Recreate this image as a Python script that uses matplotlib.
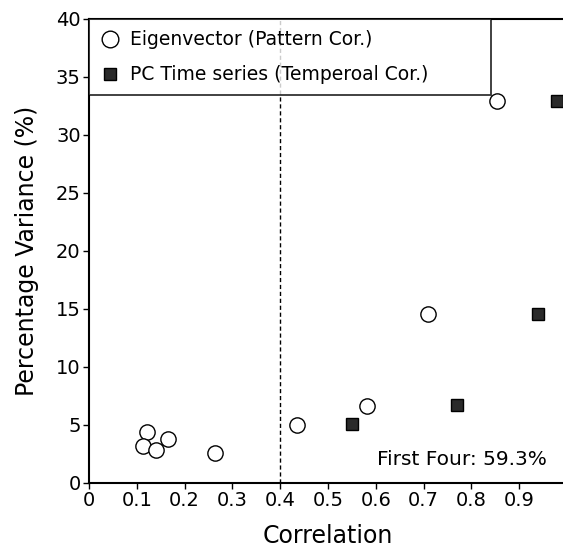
import matplotlib
matplotlib.use("Agg")
import matplotlib.pyplot as plt
from matplotlib.lines import Line2D

# Data
eig_corr = [0.121, 0.112, 0.140, 0.165, 0.264, 0.435, 0.581, 0.710, 0.854]
eig_var = [4.4, 3.2, 2.85, 3.8, 2.6, 5.0, 6.6, 14.6, 32.9]
pc_corr = [0.551, 0.770, 0.940, 0.979]
pc_var = [5.1, 6.7, 14.6, 32.9]
xticks = [0, 0.1, 0.2, 0.3, 0.4, 0.5, 0.6, 0.7, 0.8, 0.9]
xticklabels = ["0", "0.1", "0.2", "0.3", "0.4", "0.5", "0.6", "0.7", "0.8", "0.9"]
yticks = [0, 5, 10, 15, 20, 25, 30, 35, 40]
legend_labels = ["Eigenvector (Pattern Cor.)", "PC Time series (Temperoal Cor.)"]
annotation = "First Four: 59.3%"

plt.rcParams['font.family'] = ['DejaVu Sans']
fig = plt.figure(figsize=(5.63, 5.51), dpi=100)
ax = fig.add_axes([89/563, (551-483)/551, 478/563, 464/551])

ax.set_xlim(0, 1.0)
ax.set_ylim(0, 40)

# threshold line
ax.axvline(0.4, color='black', lw=1, ls=(0, (3, 2)), zorder=1)
ax.axhline(0, color='black', lw=1, ls=(0, (4, 2)), zorder=1)

ax.plot(eig_corr, eig_var, ls='none', marker='o', ms=11, mfc='white',
        mec='black', mew=1.0, zorder=3, clip_on=False)
ax.plot(pc_corr, pc_var, ls='none', marker='s', ms=8, mfc='#2a2a2a',
        mec='black', mew=1.0, zorder=3, clip_on=False)

# legend box
h1 = Line2D([], [], ls='none', marker='o', ms=12, mfc='white', mec='black', mew=1.0)
h2 = Line2D([], [], ls='none', marker='s', ms=9, mfc='#2a2a2a', mec='black', mew=1.0)
leg = ax.legend([h1, h2], legend_labels, loc='upper left',
                bbox_to_anchor=(0.0, 0.0, 0.84, 1.0), mode='expand',
                frameon=True, fancybox=False, fontsize=13.5, handletextpad=0.6,
                borderaxespad=0.0, handlelength=1.0, borderpad=0.6, labelspacing=0.85)
leg.get_frame().set_edgecolor('black')
leg.get_frame().set_linewidth(1.3)

ax.text(0.957, 2.0, annotation, ha='right', va='center', fontsize=14.5)

ax.set_xticks(xticks)
ax.set_xticklabels(xticklabels)
ax.set_yticks(yticks)
ax.tick_params(axis='both', labelsize=14, direction='out', length=4, width=1,
               colors='black', pad=2)
ax.spines['right'].set_visible(False)
for s in ['left', 'bottom', 'top']:
    ax.spines[s].set_linewidth(1.5)

ax.set_xlabel("Correlation", fontsize=17, labelpad=10)
ax.set_ylabel("Percentage Variance (%)", fontsize=17, labelpad=12)

fig.savefig("out.png", dpi=100)
